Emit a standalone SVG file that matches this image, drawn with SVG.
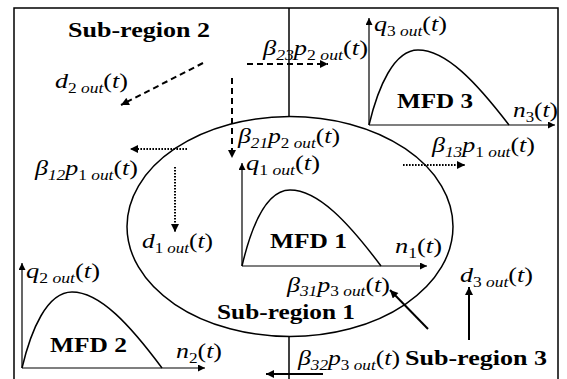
<svg xmlns="http://www.w3.org/2000/svg" width="567" height="379" viewBox="0 0 567 379">
<style>
text{font-family:"Liberation Serif","Times New Roman",serif;fill:#000}
.m{font-size:21px;font-style:italic}
.s{font-size:14px}
.u{font-style:normal}
.b{font-size:21px;font-weight:bold}
.ln{fill:none;stroke:#000;stroke-width:1.5}
.ax{fill:none;stroke:#000;stroke-width:1.2}
.dash{fill:none;stroke:#000;stroke-width:2;stroke-dasharray:6 4}
.dot{fill:none;stroke:#000;stroke-width:2;stroke-dasharray:1.6 1.4}
.sol{fill:none;stroke:#000;stroke-width:2}
</style>
<defs>
<marker id="ah" viewBox="0 0 10 10" refX="10" refY="5" markerWidth="9" markerHeight="8" markerUnits="userSpaceOnUse" orient="auto"><path d="M0,0 L10,5 L0,10 z" fill="#000"/></marker>
<marker id="axh" viewBox="0 0 10 10" refX="10" refY="5" markerWidth="9" markerHeight="7" markerUnits="userSpaceOnUse" orient="auto"><path d="M0,0 L10,5 L0,10 z" fill="#000"/></marker>
</defs>
<rect width="567" height="379" fill="#fff"/>
<g id="regions">
<path class="ln" d="M14,379 V8 H558 V379"/>
<line class="ln" x1="289" y1="8" x2="289" y2="117"/>
<line class="ln" x1="289" y1="336" x2="289" y2="379"/>
<ellipse class="ln" cx="290" cy="226.5" rx="163" ry="110"/>
<text class="b" x="68" y="37" textLength="142" lengthAdjust="spacingAndGlyphs">Sub-region 2</text>
<text class="b" x="217" y="319" textLength="138" lengthAdjust="spacingAndGlyphs">Sub-region 1</text>
<text class="b" x="405" y="365" textLength="142" lengthAdjust="spacingAndGlyphs">Sub-region 3</text>
</g>
<g id="mfd1">
<path class="ax" d="M242,266 V163" marker-end="url(#axh)"/>
<path class="ax" d="M242,266 H427" marker-end="url(#axh)"/>
<path class="ln" d="M242,266 C251,228 266,190 290,190 C318,190 348,222 381,266"/>
<text class="b" x="270" y="248" textLength="77" lengthAdjust="spacingAndGlyphs">MFD 1</text>
<text class="m" x="246" y="170" textLength="74" lengthAdjust="spacingAndGlyphs">q<tspan class="s u" dy="5">1</tspan><tspan class="s"> out</tspan><tspan class="u" dy="-5">(</tspan>t<tspan class="u">)</tspan></text>
<text class="m" x="395" y="253" textLength="47" lengthAdjust="spacingAndGlyphs">n<tspan class="s u" dy="5">1</tspan><tspan class="u" dy="-5">(</tspan>t<tspan class="u">)</tspan></text>
</g>
<g id="mfd2">
<path class="ax" d="M22,368 V263" marker-end="url(#axh)"/>
<path class="ax" d="M22,368 H205" marker-end="url(#axh)"/>
<path class="ln" d="M22,368 C31,330 47,292 72,292 C100,292 130,325 162,368"/>
<text class="b" x="50" y="352" textLength="77" lengthAdjust="spacingAndGlyphs">MFD 2</text>
<text class="m" x="26" y="278" textLength="74" lengthAdjust="spacingAndGlyphs">q<tspan class="s u" dy="5">2</tspan><tspan class="s"> out</tspan><tspan class="u" dy="-5">(</tspan>t<tspan class="u">)</tspan></text>
<text class="m" x="176" y="358" textLength="46" lengthAdjust="spacingAndGlyphs">n<tspan class="s u" dy="5">2</tspan><tspan class="u" dy="-5">(</tspan>t<tspan class="u">)</tspan></text>
</g>
<g id="mfd3">
<path class="ax" d="M369,125 V18" marker-end="url(#axh)"/>
<path class="ax" d="M369,125 H555" marker-end="url(#axh)"/>
<path class="ln" d="M369,125 C378,87 394,50 418,50 C446,50 476,82 509,125"/>
<text class="b" x="397" y="108" textLength="76" lengthAdjust="spacingAndGlyphs">MFD 3</text>
<text class="m" x="374" y="31" textLength="73" lengthAdjust="spacingAndGlyphs">q<tspan class="s u" dy="5">3</tspan><tspan class="s"> out</tspan><tspan class="u" dy="-5">(</tspan>t<tspan class="u">)</tspan></text>
<text class="m" x="513" y="117" textLength="45" lengthAdjust="spacingAndGlyphs">n<tspan class="s u" dy="5">3</tspan><tspan class="u" dy="-5">(</tspan>t<tspan class="u">)</tspan></text>
</g>
<g id="flow-labels">
<text class="m" x="55" y="88" textLength="73" lengthAdjust="spacingAndGlyphs">d<tspan class="s u" dy="5">2</tspan><tspan class="s"> out</tspan><tspan class="u" dy="-5">(</tspan>t<tspan class="u">)</tspan></text>
<text class="m" x="263" y="55" textLength="105" lengthAdjust="spacingAndGlyphs">β<tspan class="s" dy="5">23</tspan><tspan dy="-5">p</tspan><tspan class="s u" dy="5">2</tspan><tspan class="s"> out</tspan><tspan class="u" dy="-5">(</tspan>t<tspan class="u">)</tspan></text>
<text class="m" x="238" y="143" textLength="102" lengthAdjust="spacingAndGlyphs">β<tspan class="s" dy="5">21</tspan><tspan dy="-5">p</tspan><tspan class="s u" dy="5">2</tspan><tspan class="s"> out</tspan><tspan class="u" dy="-5">(</tspan>t<tspan class="u">)</tspan></text>
<text class="m" x="35" y="175" textLength="103" lengthAdjust="spacingAndGlyphs">β<tspan class="s" dy="5">12</tspan><tspan dy="-5">p</tspan><tspan class="s u" dy="5">1</tspan><tspan class="s"> out</tspan><tspan class="u" dy="-5">(</tspan>t<tspan class="u">)</tspan></text>
<text class="m" x="142" y="248" textLength="71" lengthAdjust="spacingAndGlyphs">d<tspan class="s u" dy="5">1</tspan><tspan class="s"> out</tspan><tspan class="u" dy="-5">(</tspan>t<tspan class="u">)</tspan></text>
<text class="m" x="432" y="152" textLength="103" lengthAdjust="spacingAndGlyphs">β<tspan class="s" dy="5">13</tspan><tspan dy="-5">p</tspan><tspan class="s u" dy="5">1</tspan><tspan class="s"> out</tspan><tspan class="u" dy="-5">(</tspan>t<tspan class="u">)</tspan></text>
<text class="m" x="287" y="292" textLength="103" lengthAdjust="spacingAndGlyphs">β<tspan class="s" dy="4">31</tspan><tspan dy="-4">p</tspan><tspan class="s u" dy="4">3</tspan><tspan class="s"> out</tspan><tspan class="u" dy="-4">(</tspan>t<tspan class="u">)</tspan></text>
<text class="m" x="460" y="282" textLength="73" lengthAdjust="spacingAndGlyphs">d<tspan class="s u" dy="5">3</tspan><tspan class="s"> out</tspan><tspan class="u" dy="-5">(</tspan>t<tspan class="u">)</tspan></text>
<text class="m" x="298" y="365" textLength="102" lengthAdjust="spacingAndGlyphs">β<tspan class="s" dy="5">32</tspan><tspan dy="-5">p</tspan><tspan class="s u" dy="5">3</tspan><tspan class="s"> out</tspan><tspan class="u" dy="-5">(</tspan>t<tspan class="u">)</tspan></text>
</g>
<g id="connectors">
<line class="dash" x1="203" y1="63" x2="121" y2="105" marker-end="url(#ah)"/>
<line class="dash" x1="247" y1="64" x2="328" y2="64" marker-end="url(#ah)"/>
<line class="dash" x1="232" y1="78" x2="232" y2="158" marker-end="url(#ah)"/>
<line class="dot" x1="187" y1="149" x2="130" y2="149" marker-end="url(#ah)"/>
<line class="dot" x1="175" y1="167" x2="175" y2="232" marker-end="url(#ah)"/>
<line class="dot" x1="403" y1="165" x2="465" y2="165" marker-end="url(#ah)"/>
<line class="sol" x1="428" y1="329" x2="390" y2="290" marker-end="url(#ah)"/>
<line class="sol" x1="469" y1="340" x2="469" y2="287" marker-end="url(#ah)"/>
<line class="sol" x1="323" y1="374" x2="266" y2="374" marker-end="url(#ah)"/>
</g>
</svg>
